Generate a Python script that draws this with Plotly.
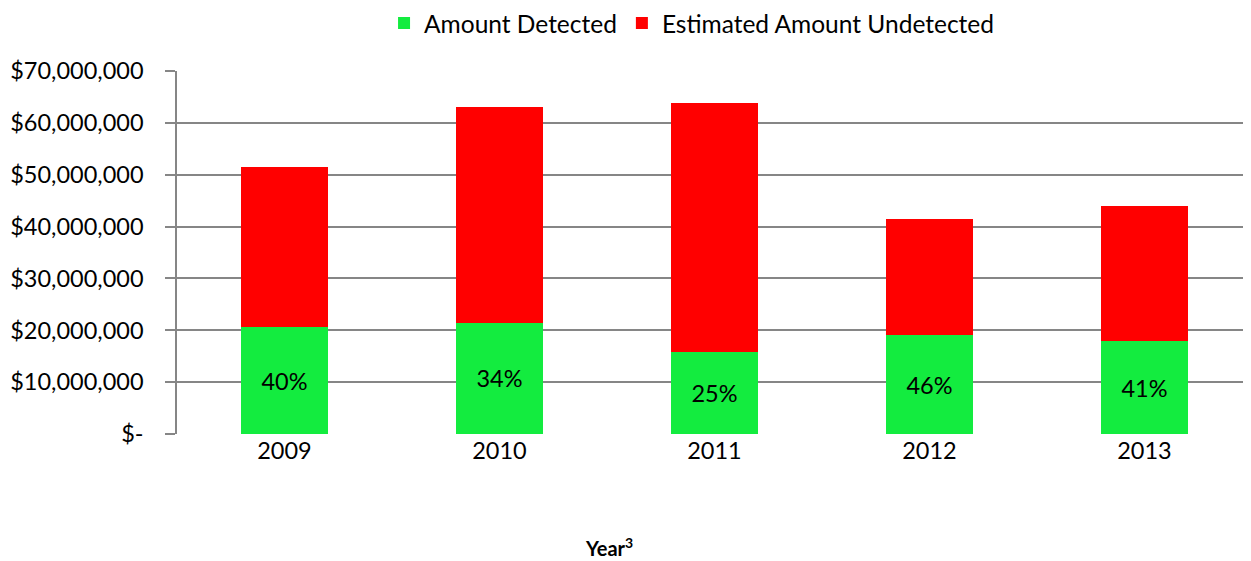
import plotly.graph_objects as go

years = ["2009", "2010", "2011", "2012", "2013"]
detected = [20.6e6, 21.5e6, 15.8e6, 19.0e6, 17.9e6]
total = [51.4e6, 63.1e6, 63.9e6, 41.5e6, 44.0e6]
undetected = [t - d for t, d in zip(total, detected)]
pct_labels = ["40%", "34%", "25%", "46%", "41%"]
tick_vals = [0, 10e6, 20e6, 30e6, 40e6, 50e6, 60e6, 70e6]
tick_text = ["$-", "$10,000,000", "$20,000,000", "$30,000,000", "$40,000,000",
             "$50,000,000", "$60,000,000", "$70,000,000"]

FONT = "Lato"
TS = 23.5

fig = go.Figure()
fig.add_trace(go.Bar(
    x=years, y=detected, name="Amount Detected",
    marker=dict(color="#13EC3F", line=dict(width=0)),
    text=pct_labels, textposition="inside", insidetextanchor="middle",
    textfont=dict(color="black", size=TS, family=FONT),
    hoverinfo="skip",
))
fig.add_trace(go.Bar(
    x=years, y=undetected, name="Estimated Amount Undetected",
    marker=dict(color="#FF0000", line=dict(width=0)),
    hoverinfo="skip",
))

fig.update_layout(
    barmode="stack",
    bargap=0.597,
    width=1251, height=561,
    margin=dict(l=169, r=7, t=63, b=135, autoexpand=False),
    paper_bgcolor="white", plot_bgcolor="white",
    font=dict(family=FONT, size=TS, color="black"),
    showlegend=True,
    legend=dict(orientation="h", x=0.1926, xanchor="left", y=1.132, yanchor="middle",
                font=dict(size=24.5, family=FONT), traceorder="normal",
                itemwidth=30, borderwidth=0),
    xaxis=dict(
        showgrid=False, showline=False, ticks="", tickfont=dict(size=TS),
        automargin=False,
    ),
    yaxis=dict(
        range=[0, 70e6], tickvals=tick_vals, ticktext=tick_text,
        showgrid=True, gridcolor="#868686", gridwidth=1.5,
        showline=True, linecolor="#868686", linewidth=1.5,
        ticks="outside", ticklen=10, tickcolor="#868686", tickwidth=1.5,
        zeroline=False, tickfont=dict(size=TS), ticklabelstandoff=17,
        automargin=False,
    ),
    annotations=[dict(
        text="<b>Year<sup>3</sup></b>", xref="paper", yref="paper",
        x=0.402, y=-0.312, xanchor="center", yanchor="middle",
        showarrow=False, font=dict(size=20, family=FONT, color="black"),
    )],
)

fig.write_html("out.html")
